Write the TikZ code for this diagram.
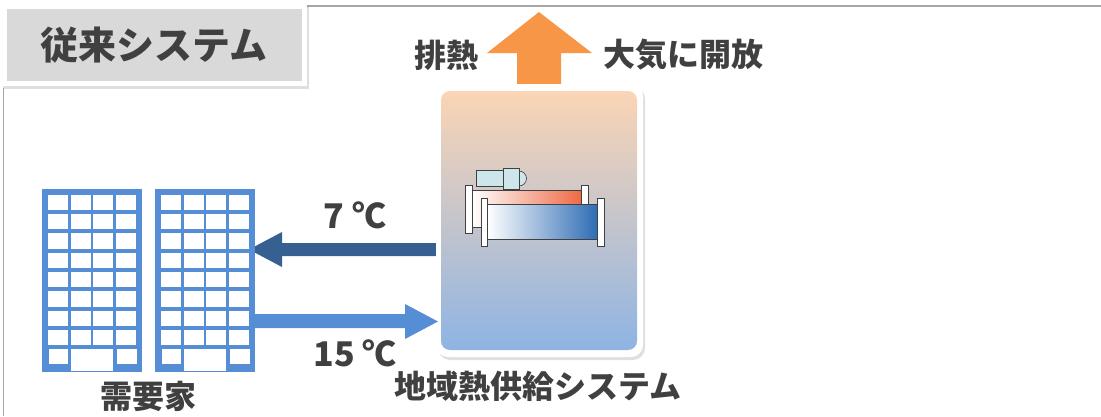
\documentclass[tikz,border=0pt]{standalone}
\usepackage{fontspec}
\setmainfont{Noto Sans CJK JP}
\usetikzlibrary{shadows, positioning}
\definecolor{textGray}{HTML}{404040}
\definecolor{frameGray}{HTML}{A6A6A6}
\definecolor{titleGray}{HTML}{D9D9D9}
\definecolor{heatOrange}{HTML}{F79646}
\definecolor{coldBlue}{HTML}{376092}
\definecolor{warmBlue}{HTML}{558ED5}
\definecolor{boxTop}{HTML}{FBD5B5}
\definecolor{boxBottom}{HTML}{8EB4E3}
\definecolor{motorBlue}{HTML}{CDE6EC}
\definecolor{tubeRed}{HTML}{EE6A45}
\definecolor{tubeBlue}{HTML}{2F6DB5}

\begin{document}
\begin{tikzpicture}[x=1pt, y=-1pt,
    label/.style={text=textGray, font=\fontsize{32}{36}\selectfont\bfseries, inner sep=0pt},
    part/.style={draw=black!75, line width=0.6pt},
    softshadow/.style={drop shadow={opacity=0.25, shadow xshift=2pt, shadow yshift=-3pt}}]
    \useasboundingbox (0,0) rectangle (1101,416);

    % Frame lines
    \draw[frameGray, line width=1.5pt] (305,6) -- (1101,6);
    \draw[frameGray, line width=1pt] (3,88) -- (3,416);

    % Title box
    \fill[white, softshadow] (1,3) rectangle (307,86);
    \fill[titleGray] (7,9) rectangle (302,81);
    \node[label, font=\fontsize{38}{42}\selectfont\bfseries] (title) at (154,45) {従来システム};

    % Exhaust heat arrow
    \fill[heatOrange] (517,95) -- (517,53) -- (487,53) -- (539,12) -- (592,53) -- (561,53) -- (561,95) -- cycle;
    \node[label, anchor=east] (exhaust) at (479,55) {排熱};
    \node[label, anchor=west] (release) at (603,55) {大気に開放};

    % Supply arrow (7 C)
    \fill[coldBlue] (440,243) -- (282,243) -- (282,232) -- (249,249.5) -- (282,267) -- (282,256) -- (440,256) -- cycle;
    \node[label, font=\fontsize{34}{38}\selectfont\bfseries] (supply) at (355,215) {7 ℃};

    % Plant box
    \fill[white, rounded corners=12pt, softshadow] (436,84) rectangle (643,357);
    \shade[top color=boxTop, bottom color=boxBottom, rounded corners=9pt] (441,91) rectangle (637,350);
    \node[label] (plant) at (538,386) {地域熱供給システム};

    % Return arrow (15 C)
    \fill[warmBlue] (255,314) -- (405,314) -- (405,304) -- (438,321.5) -- (405,339) -- (405,328) -- (255,328) -- cycle;
    \node[label, font=\fontsize{34}{38}\selectfont\bfseries] (return) at (355,353) {15 ℃};

    % Chiller: rear tube
    \filldraw[part, fill=white] (465,185) rectangle (472,233);
    \filldraw[part, fill=white] (581,185) rectangle (588,233);
    \filldraw[part, left color=white, right color=tubeRed] (472,190) rectangle (581,227);
    % Chiller: front tube
    \filldraw[part, left color=white, right color=tubeBlue] (487,204) rectangle (597,239);
    \filldraw[part, fill=white] (481,198) rectangle (487,246);
    \filldraw[part, fill=white] (597,198) rectangle (604,246);
    % Chiller: motor
    \filldraw[part, fill=motorBlue] (476,170) rectangle (503,186);
    \filldraw[part, fill=motorBlue] (519,171) arc[start angle=-90, end angle=90, radius=7.5] -- cycle;
    \filldraw[part, fill=motorBlue] (503,168) rectangle (519,189);

    % Buildings
    \foreach \bx in {42,155} {
        \fill[warmBlue] (\bx,189) rectangle ++(100,183);
        \foreach \r in {0,...,7}
            \foreach \c in {0,...,3}
                \fill[white] ({\bx+6+\c*22.6},{194.7+\r*19.3}) rectangle ++(20,15.3);
        \fill[white] ({\bx+6.7},348.7) rectangle ++(19.3,15.3);
        \fill[white] ({\bx+29},348.7) rectangle ++(42,22);
        \fill[white] ({\bx+75},348.7) rectangle ++(19.7,15.3);
    }
    \node[label] (users) at (148.5,396) {需要家};
\end{tikzpicture}
\end{document}
